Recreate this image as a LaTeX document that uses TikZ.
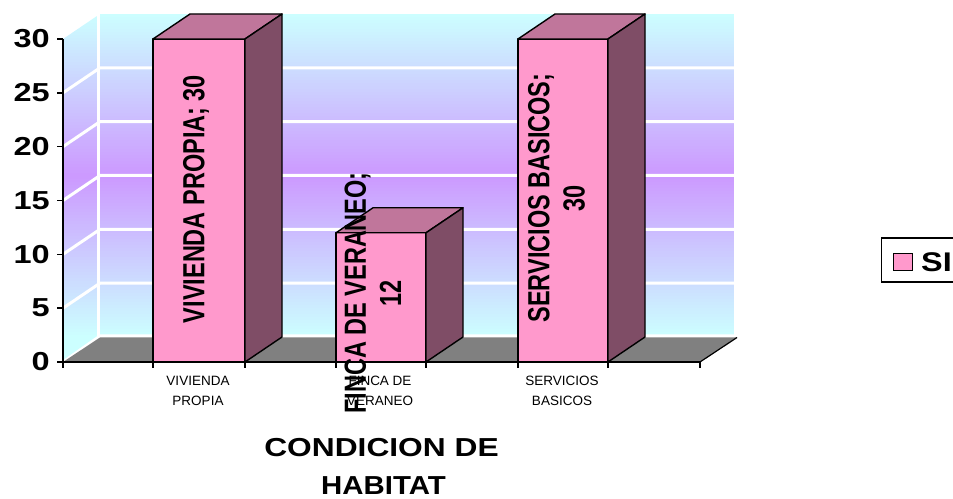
\documentclass[tikz,border=0pt]{standalone}
\usepackage{fontspec}
\setmainfont{Liberation Sans}
\usepackage{graphicx}
\definecolor{wallcyan}{RGB}{204,255,255}
\definecolor{wallpurple}{RGB}{204,153,255}
\definecolor{barfront}{RGB}{255,153,204}
\definecolor{bartop}{RGB}{192,118,155}
\definecolor{barside}{RGB}{127,77,102}
\definecolor{floorgray}{RGB}{128,128,128}
\newcommand{\cbar}[3]{%
  \filldraw[barline, fill=barfront] (#1,362) rectangle (#2,#3);
  \filldraw[barline, fill=bartop] (#1,#3) -- ({#1+37},{#3-25}) -- ({#2+37},{#3-25}) -- (#2,#3) -- cycle;
  \filldraw[barline, fill=barside] (#2,362) -- (#2,#3) -- ({#2+37},{#3-25}) -- ({#2+37},337) -- cycle;
}
\newcommand{\wallstrips}[4]{% x1, x2, ystart, count
  \foreach \i in {0,...,#4} {
    \pgfmathsetmacro{\ya}{#3+\i*3}
    \pgfmathsetmacro{\pp}{max(0,100-abs(\ya+1.5-175.5)/161.5*100)}
    \fill[wallpurple!\pp!wallcyan] (#1,\ya) rectangle (#2,{\ya+3.4});
  }
}
\newcommand{\barfont}{\fontsize{23.5bp}{27bp}\selectfont\bfseries}
\newcommand{\tickfont}{\fontsize{26bp}{30bp}\selectfont\bfseries}
\newcommand{\catfont}{\fontsize{13.5bp}{20bp}\selectfont}
\newcommand{\titlefont}{\fontsize{26bp}{30bp}\selectfont\bfseries}
\tikzset{
  barline/.style={draw=black, line width=1.4bp, line join=round},
  gridwhite/.style={draw=white, line width=3bp},
  axisline/.style={draw=black, line width=1.5bp},
  ticklab/.style={anchor=east, inner sep=0pt},
  catlab/.style={inner sep=0pt, align=center},
  barlab/.style={rotate=90, inner sep=0pt},
}
\begin{document}
\begin{tikzpicture}[x=1bp, y=-1bp]
\useasboundingbox (0,0) rectangle (953,499);
\clip (0,0) rectangle (953,499);
\fill[white] (0,0) rectangle (953,499);
% back wall
\begin{scope}
  \clip (100,14) rectangle (734,337);
  \wallstrips{100}{734}{14}{108}
\end{scope}
% side wall
\begin{scope}
  \clip (63,39) -- (100,14) -- (100,337) -- (63,362) -- cycle;
  \wallstrips{63}{100}{14}{116}
\end{scope}
% grid lines
\foreach \yf/\yb in {308.17/283.17, 254.33/229.33, 200.5/175.5, 146.67/121.67, 92.83/67.83} {
  \draw[gridwhite] (63,\yf) -- (100,\yb) -- (734,\yb);
}
\draw[gridwhite] (98.5,14) -- (98.5,337);
\draw[gridwhite] (63,362) -- (100,336) -- (734,336);
% floor
\fill[floorgray] (63,362) -- (700,362) -- (737,337.5) -- (100,337.5) -- cycle;
\draw[black, line width=1.2bp] (700,362) -- (737,337.5);
% axes
\draw[axisline] (63,39) -- (63,362) -- (700,362);
\foreach \yy in {39, 92.83, 146.67, 200.5, 254.33, 308.17, 362} {
  \draw[axisline] (57,\yy) -- (63,\yy);
}
\foreach \xx in {63, 153, 245, 336, 426, 518, 608, 700} {
  \draw[axisline] (\xx,362) -- (\xx,368);
}
% tick labels
\node[ticklab] (t30) at (50,39) {\scalebox{1.25}[1]{\tickfont 30}};
\node[ticklab] (t25) at (50,92.83) {\scalebox{1.25}[1]{\tickfont 25}};
\node[ticklab] (t20) at (50,146.67) {\scalebox{1.25}[1]{\tickfont 20}};
\node[ticklab] (t15) at (50,200.5) {\scalebox{1.25}[1]{\tickfont 15}};
\node[ticklab] (t10) at (50,254.33) {\scalebox{1.25}[1]{\tickfont 10}};
\node[ticklab] (t5) at (50,308.17) {\scalebox{1.25}[1]{\tickfont 5}};
\node[ticklab] (t0) at (50,362) {\scalebox{1.25}[1]{\tickfont 0}};
% bars
\cbar{153}{245}{39}
\cbar{336}{426}{232.8}
\cbar{518}{608}{39}
% category labels
\node[catlab] (c1) at (198,391) {\catfont\begin{tabular}{@{}c@{}}VIVIENDA\\PROPIA\end{tabular}};
\node[catlab] (c2) at (380,391) {\catfont\begin{tabular}{@{}c@{}}FINCA DE\\VERANEO\end{tabular}};
\node[catlab] (c3) at (562,391) {\catfont\begin{tabular}{@{}c@{}}SERVICIOS\\BASICOS\end{tabular}};
% bar value labels
\node[barlab] (l1) at (196,199) {\scalebox{1}[1.3]{\barfont VIVIENDA PROPIA; 30}};
\node[barlab] (l2) at (376.5,293) {\scalebox{1}[1.3]{\barfont\begin{tabular}{@{}c@{}}FINCA DE VERANEO;\\12\end{tabular}}};
\node[barlab] (l3) at (560,198) {\scalebox{1}[1.3]{\barfont\begin{tabular}{@{}c@{}}SERVICIOS BASICOS;\\30\end{tabular}}};
% axis title
\node[inner sep=0pt] (title1) at (381.5,448) {\scalebox{1.22}[1]{\titlefont CONDICION DE}};
\node[inner sep=0pt] (title2) at (383.5,485.5) {\scalebox{1.13}[1]{\titlefont HABITAT}};
% legend
\draw[black, line width=1.2bp] (965,238) -- (881.5,238) -- (881.5,282) -- (965,282);
\filldraw[draw=black, line width=1bp, fill=barfront] (893,254) rectangle (912,271);
\node[anchor=west, inner sep=0pt] (legsi) at (921,262.5) {\scalebox{1.2}[1]{\fontsize{27bp}{30bp}\selectfont\bfseries SI}};
\end{tikzpicture}
\end{document}
